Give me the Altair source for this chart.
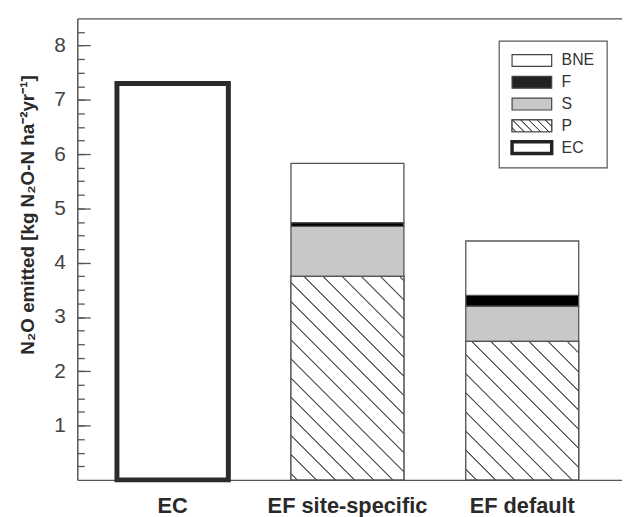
import altair as alt
import pandas as pd

# ---------------- data ----------------
categories = ["EC", "EF site-specific", "EF default"]
parts = ["P", "S", "F", "BNE"]
ef_site_values = [3.75, 0.92, 0.07, 1.09]
ef_default_values = [2.55, 0.65, 0.20, 1.00]
ec_values = [7.30]
legend_labels = ["BNE", "F", "S", "P", "EC"]
y_major_ticks = [1, 2, 3, 4, 5, 6, 7, 8]
y_minor_ticks = [0.25, 0.5, 0.75, 1, 1.25, 1.5, 1.75, 2, 2.25, 2.5, 2.75, 3,
                 3.25, 3.5, 3.75, 4, 4.25, 4.5, 4.75, 5, 5.25, 5.5, 5.75, 6,
                 6.25, 6.5, 6.75, 7, 7.25, 7.5, 7.75, 8, 8.25]
y_title = "N\u2082O emitted [kg N\u2082O-N ha\u207b\u00b2yr\u207b\u00b9]"

# ---------------- layout ----------------
W, H = 550, 466
YMAX = 8.5
P_IN, P_OUT, ALIGN = 0.354, 0.235, 0.473
step = W / (len(categories) - P_IN + 2 * P_OUT)
bandw = step * (1 - P_IN)
FONT = "Liberation Sans"
LINE = "#555555"

stack_rows = []
for cat, vals in [("EF site-specific", ef_site_values), ("EF default", ef_default_values)]:
    for i, (p, v) in enumerate(zip(parts, vals)):
        stack_rows.append({"cat": cat, "part": p, "value": v, "ord": i})
stack_df = pd.DataFrame(stack_rows)
ec_df = pd.DataFrame({"cat": ["EC"], "value": ec_values})
legend_df = pd.DataFrame({"label": legend_labels})

xs = alt.Scale(domain=categories, paddingInner=P_IN, paddingOuter=P_OUT, align=ALIGN)
ys = alt.Scale(domain=[0, YMAX], nice=False, zero=True)


def hatch(w, h, spacing, phase, color="#505050", half=1.3, core=0.35):
    """Diagonal (\\) stripes as a linear gradient in bounding-box units."""
    L = w + h
    k = L / (w * w + h * h)
    stops = [alt.GradientStop(offset=0, color="#ffffff")]
    u = (phase % spacing) - spacing
    last = 0.0
    while u <= L + spacing:
        for off, col in [(u - half, "#ffffff"), (u - core, color),
                         (u + core, color), (u + half, "#ffffff")]:
            o = off / L
            if 0 < o < 1 and o >= last:
                stops.append(alt.GradientStop(offset=round(o, 5), color=col))
                last = o
        u += spacing
    stops.append(alt.GradientStop(offset=1, color="#ffffff"))
    return alt.LinearGradient(gradient="linear", stops=stops,
                              x1=0, y1=1, x2=round(k * w, 5), y2=round(1 - k * h, 5))


# ---------------- bars ----------------
stack = alt.Chart(stack_df).mark_bar(stroke=LINE, strokeWidth=1.3).encode(
    x=alt.X("cat:N", scale=xs, title=None,
            axis=alt.Axis(orient="bottom", ticks=False, labelAngle=0,
                          labelFontSize=22, labelFontWeight="bold",
                          labelColor="#2a2a2a", labelFont=FONT, labelPadding=16,
                          domainColor=LINE, domainWidth=1.5, grid=False)),
    y=alt.Y("value:Q", stack="zero", scale=ys,
            axis=alt.Axis(orient="left", values=y_major_ticks, ticks=False,
                          labelFontSize=21, labelColor="#444444", labelFont=FONT,
                          labelPadding=12, domainColor=LINE, domainWidth=1.5,
                          grid=False, title=y_title, titleFont=FONT,
                          titleFontSize=19, titleFontWeight="bold",
                          titleColor="#2a2a2a", titleX=-50, titleY=198,
                          titleBaseline="middle", titleAlign="center")),
    fill=alt.Fill("part:N", scale=alt.Scale(domain=parts,
                  range=["#ffffff", "#c8c8c8", "#000000", "#ffffff"]), legend=None),
    order=alt.Order("ord:Q"),
)

hatch_layers = []
for cat, vals, phase in [("EF site-specific", ef_site_values, 13),
                         ("EF default", ef_default_values, 6)]:
    h = vals[0] / YMAX * H
    grad = hatch(bandw, h, 19.3, phase + h)
    lyr = alt.Chart(stack_df).transform_filter(
        (alt.datum.cat == cat) & (alt.datum.part == "P")
    ).mark_bar(fill=grad, stroke=LINE, strokeWidth=1.3).encode(
        x=alt.X("cat:N", scale=xs, axis=None),
        y=alt.Y("value:Q", scale=ys, axis=None),
    )
    hatch_layers.append(lyr)

ec = alt.Chart(ec_df).mark_bar(fill="#ffffff", stroke="#2b2b2b", strokeWidth=5,
                               width=112.5).encode(
    x=alt.X("cat:N", scale=xs, axis=None),
    y=alt.Y("value:Q", scale=ys, axis=None),
)

# inward ticks drawn with right-oriented axes shifted to the left edge
major = alt.Chart(ec_df).mark_point(opacity=0).encode(
    y=alt.Y("value:Q", scale=ys,
            axis=alt.Axis(orient="right", offset=-W, values=y_major_ticks,
                          labels=False, domain=False, grid=False, ticks=True,
                          tickSize=13, tickColor=LINE, tickWidth=1.3, title=None))
)
minor = alt.Chart(ec_df).mark_point(opacity=0).encode(
    y=alt.Y("value:Q", scale=ys,
            axis=alt.Axis(orient="right", offset=-W, values=y_minor_ticks,
                          labels=False, domain=False, grid=False, ticks=True,
                          tickSize=7, tickColor=LINE, tickWidth=1.3, title=None))
)
top = alt.Chart(ec_df).mark_point(opacity=0).encode(
    x=alt.X("cat:N", scale=xs,
            axis=alt.Axis(orient="top", labels=False, ticks=False, domain=True,
                          domainColor=LINE, domainWidth=1.5, grid=False, title=None))
)

plot = alt.layer(stack, *hatch_layers, ec, major, minor, top).resolve_axis(
    x="independent", y="independent")

# ---------------- legend ----------------
ly = alt.Y("label:N", scale=alt.Scale(domain=legend_labels, range=[42.5, 130.5],
                                       padding=0), axis=None)
SWATCH = "M-1,-0.3H1V0.3H-1Z"
frame = alt.Chart(pd.DataFrame({"a": [0]})).mark_rect(
    fill="#ffffff", stroke=LINE, strokeWidth=1.2).encode(
    x=alt.value(426), x2=alt.value(535), y=alt.value(23), y2=alt.value(151))
sw = alt.Chart(legend_df).mark_point(shape=SWATCH, size=1600, filled=True,
                                     opacity=1, stroke="#444444", strokeWidth=1.2).encode(
    x=alt.value(459), y=ly,
    fill=alt.Fill("label:N", scale=alt.Scale(domain=legend_labels,
                  range=["#ffffff", "#222222", "#c8c8c8", "#ffffff", "#ffffff"]),
                  legend=None),
)
sw_p = alt.Chart(legend_df).transform_filter(alt.datum.label == "P").mark_point(
    shape=SWATCH, size=1600, filled=True, opacity=1,
    fill=hatch(40, 12, 8.3, 4, color="#444444", half=1.1, core=0.3),
    stroke="#444444", strokeWidth=1.2).encode(x=alt.value(459), y=ly)
sw_ec = alt.Chart(legend_df).transform_filter(alt.datum.label == "EC").mark_point(
    shape=SWATCH, size=1600, filled=True, opacity=1, fill="#ffffff",
    stroke="#222222", strokeWidth=3.5).encode(x=alt.value(459), y=ly)
txt = alt.Chart(legend_df).mark_text(align="left", baseline="middle", fontSize=16,
                                     font=FONT, color="#333333").encode(
    x=alt.value(489), y=ly, text="label:N")
legend = alt.layer(frame, sw, sw_p, sw_ec, txt)

chart = alt.layer(plot, legend).resolve_scale(
    y="independent", fill="independent"
).properties(
    width=W, height=H,
    padding={"left": 70, "top": 8, "right": 0, "bottom": 35},
    autosize=alt.AutoSizeParams(type="none"),
).configure(font=FONT).configure_view(stroke="transparent")

chart.save("out.html", embed_options={"renderer": "svg", "actions": False})
